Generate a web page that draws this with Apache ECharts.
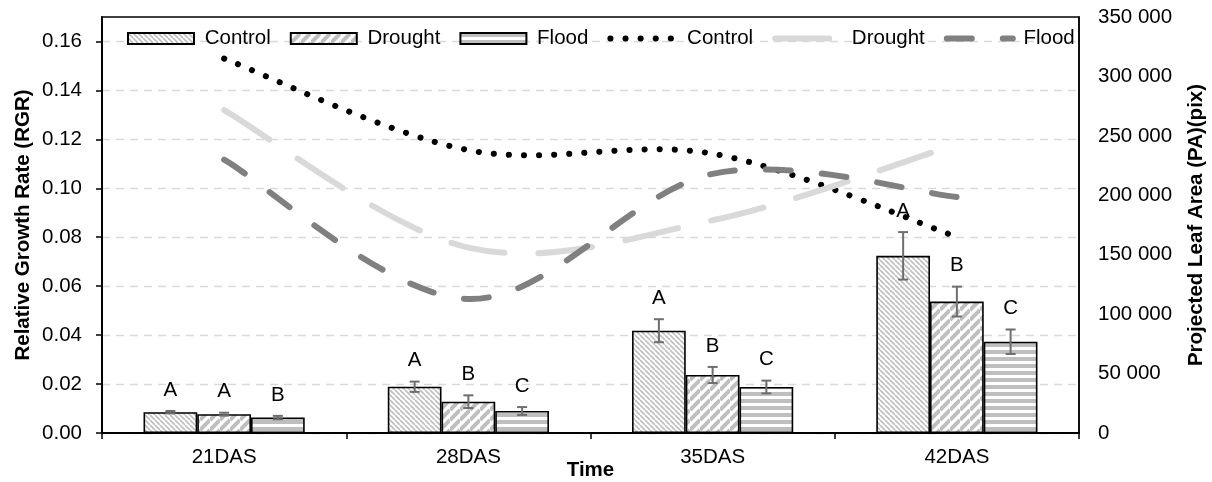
<!DOCTYPE html>
<html><head><meta charset="utf-8">
<script src="https://cdn.jsdelivr.net/npm/echarts@6/dist/echarts.min.js"></script>
<style>html,body{margin:0;padding:0;background:#fff}#c{width:1212px;height:482px}</style>
</head><body><div id="c"></div>
<script>
// ---- data ----
const categories = ['21DAS', '28DAS', '35DAS', '42DAS'];
const rgrControl = [0.0085, 0.0189, 0.0418, 0.0724];
const rgrDrought = [0.0077, 0.0128, 0.0237, 0.0537];
const rgrFlood   = [0.0063, 0.0090, 0.0188, 0.0373];
const errControl = [0.0005, 0.0021, 0.0047, 0.0097];
const errDrought = [0.0006, 0.0026, 0.0033, 0.0061];
const errFlood   = [0.0007, 0.0016, 0.0026, 0.0050];
const letterControl = ['A', 'A', 'A', 'A'];
const letterDrought = ['A', 'B', 'B', 'B'];
const letterFlood   = ['B', 'C', 'C', 'C'];
const paControl = [315000, 238000, 235000, 165000];
const paDrought = [271700, 156000, 179000, 243000];
const paFlood   = [230000, 112700, 218000, 198500];
const leftTicks = [0, 0.02, 0.04, 0.06, 0.08, 0.10, 0.12, 0.14, 0.16];
const rightTicks = [0, 50000, 100000, 150000, 200000, 250000, 300000, 350000];

// ---- styles ----
const FONT = 'Liberation Sans, Arial, sans-serif';
const FS = 20.5;
const DASH_C = [0.1, 15], DASH_D = [54, 34], DASH_F = [25, 31];
function pattern(kind) {
  const c = document.createElement('canvas');
  const g = c.getContext('2d');
  if (kind === 'control') {
    const s = 5; c.width = c.height = s;
    g.fillStyle = '#fff'; g.fillRect(0, 0, s, s);
    g.strokeStyle = '#bfbfbf'; g.lineWidth = 1.6;
    g.beginPath();
    for (let k = -1; k <= 1; k++) { g.moveTo(0, k * s); g.lineTo(s, s + k * s); }
    g.stroke();
  } else if (kind === 'drought') {
    const s = 10; c.width = c.height = s;
    g.fillStyle = '#fff'; g.fillRect(0, 0, s, s);
    g.strokeStyle = '#bfbfbf'; g.lineWidth = 4;
    g.beginPath();
    for (let k = 0; k <= 2; k++) { g.moveTo(0, k * s); g.lineTo(s, k * s - s); }
    g.stroke();
  } else {
    c.width = 4; c.height = 7;
    g.fillStyle = '#fff'; g.fillRect(0, 0, 4, 7);
    g.fillStyle = '#bfbfbf'; g.fillRect(0, 0, 4, 4);
  }
  return { image: c, repeat: 'repeat' };
}

const BW = 0.22;
function barSeries(name, data, kind) {
  return {
    name: name, type: 'bar', yAxisIndex: 0, data: data,
    barWidth: (BW * 100) + '%', barGap: '0%',
    itemStyle: { color: pattern(kind), borderColor: '#000', borderWidth: 1.6 },
    z: 2
  };
}
function errSeries(idx, vals, errs, letters) {
  return {
    name: 'err' + idx, type: 'custom', yAxisIndex: 0, z: 6, silent: true,
    data: vals.map((v, i) => [i, v, errs[i]]),
    encode: { x: 0, y: 1 },
    renderItem: function (params, api) {
      const i = api.value(0), v = api.value(1), e = api.value(2);
      const band = api.size([1, 0])[0];
      const cx = api.coord([i, v])[0] + (idx - 1) * band * BW;
      const yT = api.coord([i, v + e])[1], yB = api.coord([i, v - e])[1];
      const cap = 5, st = { stroke: '#6e6e6e', lineWidth: 2 };
      return { type: 'group', children: [
        { type: 'line', shape: { x1: cx, y1: yT, x2: cx, y2: yB }, style: st },
        { type: 'line', shape: { x1: cx - cap, y1: yT, x2: cx + cap, y2: yT }, style: st },
        { type: 'line', shape: { x1: cx - cap, y1: yB, x2: cx + cap, y2: yB }, style: st },
        { type: 'text', style: { text: letters[params.dataIndex], x: cx, y: yT - 21,
          align: 'center', verticalAlign: 'middle', fontSize: FS, fontFamily: FONT, fill: '#000' } }
      ] };
    }
  };
}
// legend-only line series (the visible curve is drawn by curveSeries)
function legendLine(name, color, dash) {
  return {
    name: name, type: 'line', yAxisIndex: 1, data: [], symbol: 'none', showSymbol: false,
    lineStyle: { color: color, width: 6, type: dash, cap: 'round' },
    itemStyle: { color: 'rgba(0,0,0,0)', borderWidth: 0 }
  };
}
// Excel-style smoothed curve (Catmull-Rom Bezier through the data points)
function curveSeries(name, arr, color, dash) {
  return {
    name: name, type: 'custom', yAxisIndex: 1, z: 10, silent: true,
    data: arr.map((v, i) => [i, v]), encode: { x: 0, y: 1 },
    renderItem: function (params, api) {
      if (params.dataIndex !== 0) return null;
      const P = arr.map((v, i) => api.coord([i, v]));
      let d = 'M' + P[0][0] + ',' + P[0][1];
      for (let i = 0; i < P.length - 1; i++) {
        const p0 = P[i - 1] || P[i], p1 = P[i], p2 = P[i + 1], p3 = P[i + 2] || P[i + 1];
        const c1 = [p1[0] + (p2[0] - p0[0]) / 6, p1[1] + (p2[1] - p0[1]) / 6];
        const c2 = [p2[0] - (p3[0] - p1[0]) / 6, p2[1] - (p3[1] - p1[1]) / 6];
        d += ' C' + c1[0] + ',' + c1[1] + ' ' + c2[0] + ',' + c2[1] + ' ' + p2[0] + ',' + p2[1];
      }
      return { type: 'path', shape: { pathData: d },
        style: { stroke: color, lineWidth: 6, fill: null, lineDash: dash, lineCap: 'round' } };
    }
  };
}
function legLineItem(name, color, dash) {
  return { name: name,
    lineStyle: { color: color, width: 6, type: dash, cap: 'round', opacity: 1 },
    itemStyle: { color: 'rgba(0,0,0,0)', borderColor: 'rgba(0,0,0,0)', borderWidth: 0 } };
}

const chart = echarts.init(document.getElementById('c'), null, { renderer: 'canvas' });
chart.setOption({
  animation: false,
  textStyle: { fontFamily: FONT },
  grid: { left: 102, right: 133, top: 17, bottom: 49, outerBoundsMode: 'none', containLabel: false,
    show: true, borderColor: '#000', borderWidth: 1.5, backgroundColor: 'transparent' },
  legend: {
    left: 122, top: 23, itemWidth: 66, itemHeight: 11, itemGap: 19,
    textStyle: { fontSize: FS, color: '#000', fontFamily: FONT },
    formatter: n => ' ' + n.split('|')[0],
    data: [
      { name: 'Control|bar', icon: 'rect' }, { name: 'Drought|bar', icon: 'rect' }, { name: 'Flood|bar', icon: 'rect' },
      legLineItem('Control|line', '#000', DASH_C),
      legLineItem('Drought|line', '#d9d9d9', DASH_D),
      legLineItem('Flood|line', '#808080', DASH_F)
    ]
  },
  xAxis: {
    type: 'category', data: categories,
    name: 'Time', nameLocation: 'middle', nameGap: 27, nameMoveOverlap: false,
    nameTextStyle: { fontSize: FS, fontWeight: 'bold', color: '#000', fontFamily: FONT },
    axisLine: { lineStyle: { color: '#000', width: 2 } },
    axisTick: { show: true, length: 6, lineStyle: { color: '#000', width: 1.5 } },
    axisLabel: { fontSize: FS, color: '#000', margin: 14, fontFamily: FONT }
  },
  yAxis: [
    {
      type: 'value', min: 0, max: 0.17, interval: 0.02,
      name: 'Relative Growth Rate (RGR)', nameLocation: 'middle', nameGap: 68, nameRotate: 90, nameMoveOverlap: false,
      nameTextStyle: { fontSize: FS, fontWeight: 'bold', color: '#000', fontFamily: FONT },
      axisLine: { show: true, lineStyle: { color: '#000', width: 2 } },
      axisTick: { show: true, length: 6, customValues: leftTicks, lineStyle: { color: '#000', width: 1.5 } },
      axisLabel: { fontSize: FS, color: '#000', margin: 20, customValues: leftTicks, fontFamily: FONT,
        formatter: v => v.toFixed(2) },
      splitLine: { show: true, lineStyle: { color: '#d9d9d9', width: 1.3, type: [8, 6] } }
    },
    {
      type: 'value', min: 0, max: 350000, interval: 50000, position: 'right',
      name: 'Projected Leaf Area (PA)(pix)', nameLocation: 'middle', nameGap: 107, nameRotate: 90, nameMoveOverlap: false,
      nameTextStyle: { fontSize: FS, fontWeight: 'bold', color: '#000', fontFamily: FONT },
      axisLine: { show: true, lineStyle: { color: '#000', width: 1.5 } },
      axisTick: { show: false },
      axisLabel: { fontSize: FS, color: '#000', margin: 19, fontFamily: FONT,
        formatter: v => String(v).replace(/\B(?=(\d{3})+(?!\d))/g, ' ') },
      splitLine: { show: false }
    }
  ],
  series: [
    barSeries('Control|bar', rgrControl, 'control'),
    barSeries('Drought|bar', rgrDrought, 'drought'),
    barSeries('Flood|bar', rgrFlood, 'flood'),
    errSeries(0, rgrControl, errControl, letterControl),
    errSeries(1, rgrDrought, errDrought, letterDrought),
    errSeries(2, rgrFlood, errFlood, letterFlood),
    legendLine('Control|line', '#000', DASH_C),
    legendLine('Drought|line', '#d9d9d9', DASH_D),
    legendLine('Flood|line', '#808080', DASH_F),
    curveSeries('curveControl', paControl, '#000', DASH_C),
    curveSeries('curveDrought', paDrought, '#d9d9d9', DASH_D),
    curveSeries('curveFlood', paFlood, '#808080', DASH_F)
  ]
});
</script></body></html>
